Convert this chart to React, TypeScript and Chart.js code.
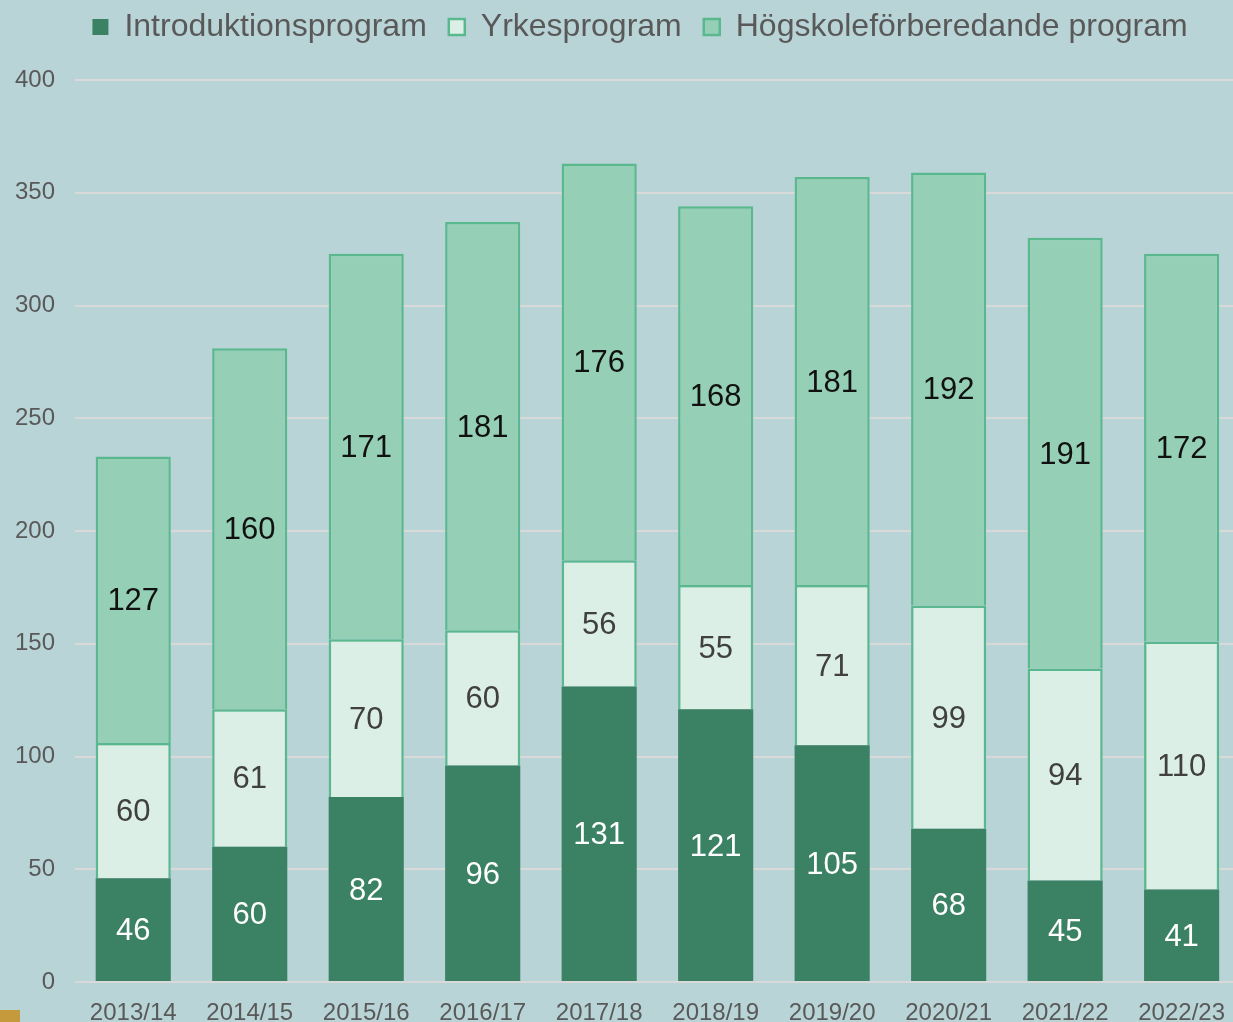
import React, { useEffect, useRef } from "react";
import { Chart, registerables } from "chart.js";

Chart.register(...registerables);

const categories = ["2013/14", "2014/15", "2015/16", "2016/17", "2017/18", "2018/19", "2019/20", "2020/21", "2021/22", "2022/23"];
const introValues = [46, 60, 82, 96, 131, 121, 105, 68, 45, 41];
const yrkesValues = [60, 61, 70, 60, 56, 55, 71, 99, 94, 110];
const hogskoleValues = [127, 160, 171, 181, 176, 168, 181, 192, 191, 172];
const seriesNames = ["Introduktionsprogram", "Yrkesprogram", "Högskoleförberedande program"];
const yTicks = [0, 50, 100, 150, 200, 250, 300, 350, 400];

const FONT = "'Liberation Sans', Arial, sans-serif";

const valueLabels = {
  id: "valueLabels",
  afterDatasetsDraw(chart: any) {
    const ctx = chart.ctx;
    const colors = ["#ffffff", "#404040", "#111111"];
    ctx.save();
    ctx.font = `31px ${FONT}`;
    ctx.textAlign = "center";
    ctx.textBaseline = "middle";
    chart.data.datasets.forEach((ds: any, di: number) => {
      const meta = chart.getDatasetMeta(di);
      meta.data.forEach((bar: any, i: number) => {
        const { x, y, base } = bar.getProps(["x", "y", "base"], true);
        ctx.fillStyle = colors[di];
        ctx.fillText(String(ds.data[i]), x, (y + base) / 2 + 2);
      });
    });
    ctx.restore();
  },
};

export default function App() {
  const ref = useRef<HTMLCanvasElement>(null);
  useEffect(() => {
    document.body.style.margin = "0";
    const chart = new Chart(ref.current!, {
      type: "bar",
      data: {
        labels: categories,
        datasets: [
          { label: seriesNames[0], data: introValues, backgroundColor: "#3b8164", borderColor: "#3b8164", borderWidth: 0 },
          { label: seriesNames[1], data: yrkesValues, backgroundColor: "#dcefe7", borderColor: "#5ab88e", borderWidth: 2.5 },
          { label: seriesNames[2], data: hogskoleValues, backgroundColor: "#95d0b6", borderColor: "#5ab88e", borderWidth: 2.5 },
        ],
      },
      options: {
        animation: false,
        responsive: false,
        maintainAspectRatio: false,
        layout: { padding: { left: 38, right: 0, top: -11, bottom: 0 } },
        datasets: { bar: { categoryPercentage: 0.645, barPercentage: 1 } },
        plugins: {
          legend: {
            position: "top",
            labels: {
              font: { family: FONT, size: 32 },
              color: "#595959",
              boxWidth: 16,
              boxHeight: 16,
              padding: 22,
            },
          },
          subtitle: {
            display: true,
            text: " ",
            weight: 500,
            font: { size: 1, lineHeight: 1 },
            padding: { top: 0, bottom: 26 },
          },
          tooltip: { enabled: false },
        },
        scales: {
          x: {
            stacked: true,
            grid: { display: false, drawTicks: false },
            border: { display: false },
            ticks: { font: { family: FONT, size: 24 }, color: "#595959", padding: 17, maxRotation: 0, autoSkip: false },
            afterFit: (s: any) => { s.height = 58; },
          },
          y: {
            stacked: true,
            min: 0,
            max: 400,
            afterBuildTicks: (s: any) => { s.ticks = yTicks.map((v) => ({ value: v })); },
            grid: { color: "#d9d9d9", lineWidth: 2, drawTicks: false },
            border: { display: false },
            ticks: { font: { family: FONT, size: 24 }, color: "#595959", padding: 20 },
            afterFit: (s: any) => { s.width = 37; s._computeLabelArea = () => undefined; },
          },
        },
      },
      plugins: [valueLabels],
    });
    return () => chart.destroy();
  }, []);
  return (
    <div style={{ position: "fixed", left: 0, top: 0, width: 1233, height: 1022, overflow: "hidden", background: "#b9d4d7" }}>
      <canvas ref={ref} width={1242} height={1040} style={{ width: 1242, height: 1040, display: "block" }} />
      <div style={{ position: "absolute", left: 0, top: 1010, width: 20, height: 12, background: "#c49a3c" }} />
    </div>
  );
}
